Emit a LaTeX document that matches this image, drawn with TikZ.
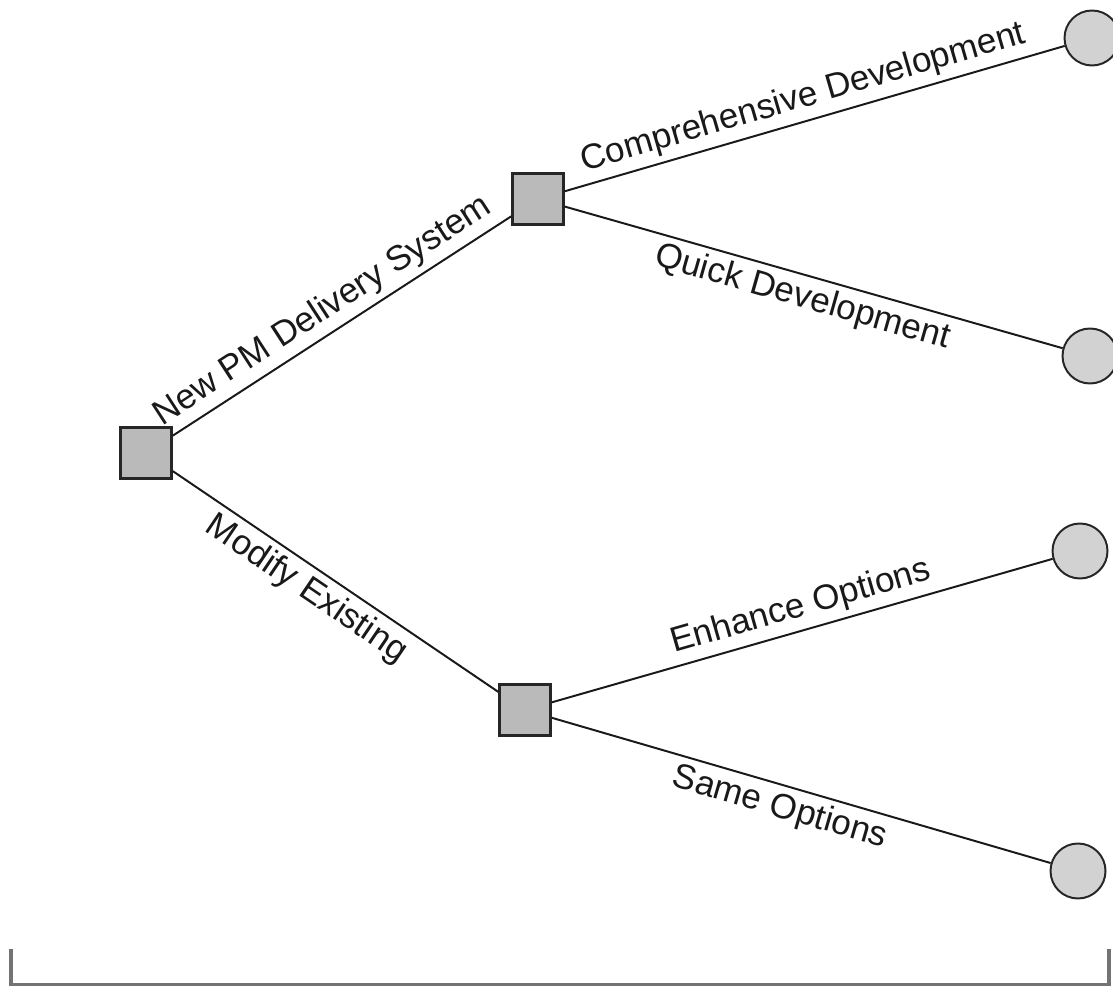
\documentclass[tikz,border=0pt]{standalone}
\usepackage{fontspec}
\setmainfont{Liberation Sans}
\usetikzlibrary{positioning}

\definecolor{boxgray}{RGB}{186,186,186}
\definecolor{dotgray}{RGB}{210,210,210}
\definecolor{rulegray}{RGB}{115,115,115}

\tikzset{
  decision/.style={draw=black!85, line width=1.8pt, fill=boxgray, minimum size=1.275cm, inner sep=0pt},
  chance/.style={circle, draw=black!85, line width=1.4pt, fill=dotgray, minimum size=1.375cm, inner sep=0pt},
  branch/.style={line width=1.4pt, black!90},
  lbl/.style={sloped, font=\fontsize{24.9}{30}\selectfont, inner sep=4pt, black!90}
}

\begin{document}
\begin{tikzpicture}
            \useasboundingbox (0,0) rectangle (27.825,24.675);

            % decision squares
            \node[decision] (root) at (3.65,13.35) {};
            \node[decision] (newsys) at (13.45,19.70) {};
            \node[decision] (modify) at (13.125,6.925) {};

            % chance circles
            \node[chance] (comp) at (27.30,23.725) {};
            \node[chance] (quick) at (27.25,15.775) {};
            \node[chance] (enh) at (27.00,10.90) {};
            \node[chance] (same) at (26.95,2.90) {};

            % branches
            \draw[branch] (root) -- node[lbl, above, pos=0.48] {New PM Delivery System} (newsys);
            \draw[branch] (root) -- node[lbl, below, pos=0.45] {Modify Existing} (modify);
            \draw[branch] (newsys) -- node[lbl, above, pos=0.49] {Comprehensive Development} (comp);
            \draw[branch] (newsys) -- node[lbl, below, pos=0.49] {Quick Development} (quick);
            \draw[branch] (modify) -- node[lbl, above, pos=0.51] {Enhance Options} (enh);
            \draw[branch] (modify) -- node[lbl, below, pos=0.47] {Same Options} (same);

            % bracket along the bottom
            \draw[rulegray, line width=2.2pt] (0.275,0.95) -- (0.275,0.07) -- (27.725,0.07) -- (27.725,0.95);
        \end{tikzpicture}
\end{document}
